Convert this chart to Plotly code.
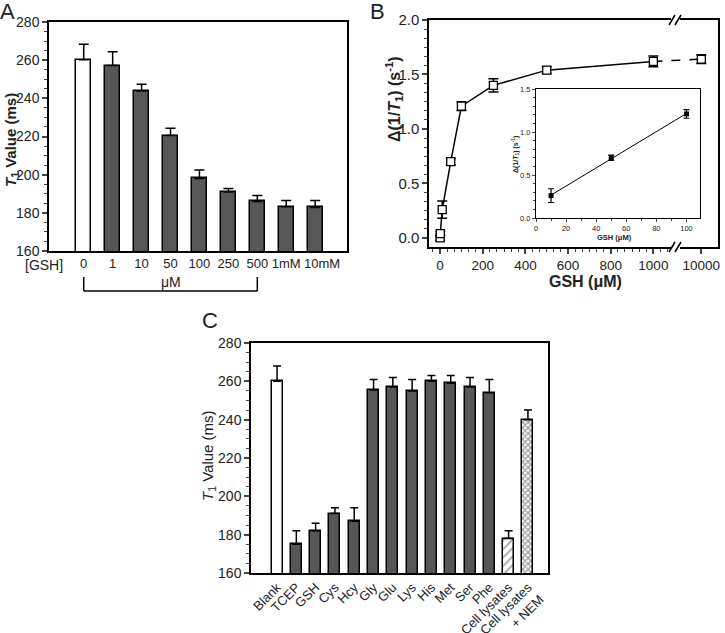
import plotly.graph_objects as go
import numpy as np

W, H = 725, 633
FONT = "Liberation Sans, Arial, sans-serif"
def px(x): return x / W
def py(y): return 1 - y / H

# ---------------- data ----------------
# Panel A
a_labels = ["0", "1", "10", "50", "100", "250", "500", "1mM", "10mM"]
a_values = [260.2, 257.2, 243.9, 220.5, 198.0, 190.9, 186.0, 183.2, 182.8]
a_err = [8.2, 7.2, 3.5, 3.8, 4.4, 1.9, 3.1, 3.3, 3.7]
a_label_pos = [0, 1, 2, 3, 4, 5, 6, 7, 8.24]   # label anchor positions (last one nudged as in the original)

# Panel B
b_conc = [0, 1, 10, 50, 100, 250, 500, 1000, 10000]
b_delta = [0.0, 0.04, 0.26, 0.70, 1.21, 1.40, 1.54, 1.62, 1.64]
b_err = [0.02, 0.02, 0.08, 0.03, 0.04, 0.06, 0.03, 0.05, 0.04]
b_ticks = [0, 200, 400, 600, 800, 1000, 10000]

# Inset of B
i_conc = [10, 50, 100]
i_delta = [0.26, 0.70, 1.21]
i_err = [0.08, 0.03, 0.05]

# Panel C
c_labels = ["Blank", "TCEP", "GSH", "Cys", "Hcy", "Gly", "Glu", "Lys", "His",
            "Met", "Ser", "Phe", "Cell lysates", "Cell lysates<br>+ NEM"]
c_values = [260, 175, 182, 191, 187, 255.5, 257, 255, 260, 259, 257, 254, 178, 240]
c_err = [8, 7, 4, 3, 7, 5.5, 5, 6, 3, 4, 5, 7, 4, 5]

# ---------------- broken x axis for B ----------------
BREAK = 1100
SEG_START = 9220
SEG_SCALE = 0.16
def bx(v):
    return v if v <= BREAK else BREAK + (v - SEG_START) * SEG_SCALE

GRAY = "#575757"
fig = go.Figure()

# Panel A bars
fig.add_trace(go.Bar(
    x=list(range(len(a_values))), y=a_values, width=0.52,
    marker=dict(color=["white"] + [GRAY] * (len(a_values) - 1),
                line=dict(color="black", width=1.5)),
    error_y=dict(type="data", array=a_err, arrayminus=[0] * len(a_err),
                 symmetric=False, color="black", thickness=1.5, width=5),
    xaxis="x", yaxis="y", showlegend=False))

# Panel B
bxs = [bx(v) for v in b_conc]
fig.add_trace(go.Scatter(x=bxs[:8], y=b_delta[:8], mode="lines",
                         line=dict(color="black", width=1.5),
                         xaxis="x2", yaxis="y2", showlegend=False))
fig.add_trace(go.Scatter(x=bxs[7:], y=b_delta[7:], mode="lines",
                         line=dict(color="black", width=1.5, dash="dash"),
                         xaxis="x2", yaxis="y2", showlegend=False))
fig.add_trace(go.Scatter(
    x=bxs, y=b_delta, mode="markers",
    marker=dict(symbol="square", size=8, color="white",
                line=dict(color="black", width=1.3)),
    error_y=dict(type="data", array=b_err, color="black", thickness=1.5, width=5),
    xaxis="x2", yaxis="y2", showlegend=False))

# Inset
coef = np.polyfit(i_conc, i_delta, 1)
fit_x = [i_conc[0], i_conc[-1]]
fig.add_trace(go.Scatter(x=fit_x, y=list(np.polyval(coef, fit_x)), mode="lines",
                         line=dict(color="black", width=1),
                         xaxis="x3", yaxis="y3", showlegend=False))
fig.add_trace(go.Scatter(
    x=i_conc, y=i_delta, mode="markers",
    marker=dict(symbol="square", size=5, color="black"),
    error_y=dict(type="data", array=i_err, color="black", thickness=1.2, width=3),
    xaxis="x3", yaxis="y3", showlegend=False))

# Panel C bars
n = len(c_values)
c_colors = ["white"] + [GRAY] * (n - 3) + ["white", "white"]
c_shapes = [""] * (n - 2) + ["/", "x"]
fig.add_trace(go.Bar(
    x=list(range(n)), y=c_values, width=0.57,
    marker=dict(color=c_colors, line=dict(color="black", width=1.5),
                pattern=dict(shape=c_shapes, fgcolor="black", fillmode="overlay",
                             size=[6] * (n - 2) + [6, 4],
                             solidity=[0.3] * (n - 1) + [0.6])),
    error_y=dict(type="data", array=c_err, arrayminus=[0] * n, symmetric=False,
                 color="black", thickness=1.5, width=4),
    xaxis="x4", yaxis="y4", showlegend=False))

tickfont = dict(family=FONT, size=14, color="#222")
box = dict(showline=True, mirror=True, linecolor="black", linewidth=1.5,
           showgrid=False, zeroline=False, automargin=False)

minor_b = [k * 200 / 6 for k in range(-1, 33) if k % 6 != 0]

fig.update_layout(
    width=W, height=H, autosize=False,
    margin=dict(l=0, r=0, t=0, b=0),
    paper_bgcolor="white", plot_bgcolor="white",
    bargap=0,
    font=dict(family=FONT, color="#222"),
    xaxis=dict(domain=[px(49), px(347)], range=[-1.2, 9.1], anchor="y",
               tickvals=a_label_pos, ticktext=a_labels, ticks="", tickangle=0,
               tickfont=dict(family=FONT, size=13, color="#222"), **box),
    yaxis=dict(domain=[py(251), py(22)], range=[160, 280], anchor="x",
               dtick=20, ticks="outside", ticklen=5, tickwidth=1.5,
               minor=dict(dtick=5, ticks="outside", ticklen=3, tickwidth=1),
               tickfont=tickfont, **box),
    xaxis2=dict(domain=[px(429), px(718)], range=[-52, 1303], anchor="y2",
                tickvals=[bx(v) for v in b_ticks], ticktext=[str(v) for v in b_ticks],
                ticks="outside", ticklen=5, tickwidth=1.5, tickangle=0,
                ticklabeloverflow="allow",
                minor=dict(tickvals=minor_b, ticks="outside", ticklen=3, tickwidth=1),
                tickfont=dict(family=FONT, size=13.5, color="#222"), **box),
    yaxis2=dict(domain=[py(247), py(20)], range=[-0.083, 2.0], anchor="x2",
                dtick=0.5, tick0=0, tickformat=".1f",
                ticks="outside", ticklen=5, tickwidth=1.5,
                minor=dict(dtick=0.5 / 6, ticks="outside", ticklen=3, tickwidth=1),
                tickfont=dict(family=FONT, size=15, color="#222"), **box),
    xaxis3=dict(domain=[px(536), px(700)], range=[0, 109], anchor="y3",
                dtick=20, ticks="outside", ticklen=3, tickwidth=1, tickangle=0,
                minor=dict(dtick=10, ticks="outside", ticklen=2, tickwidth=1),
                tickfont=dict(family=FONT, size=7.5, color="#222"),
                showline=True, mirror=True, linecolor="black", linewidth=1,
                showgrid=False, zeroline=False, automargin=False),
    yaxis3=dict(domain=[py(218), py(89)], range=[0, 1.5], anchor="x3",
                dtick=0.5, tickformat=".1f", ticks="outside", ticklen=3, tickwidth=1,
                minor=dict(dtick=0.1, ticks="outside", ticklen=2, tickwidth=1),
                tickfont=dict(family=FONT, size=7.5, color="#222"),
                showline=True, mirror=True, linecolor="black", linewidth=1,
                showgrid=False, zeroline=False, automargin=False),
    xaxis4=dict(domain=[px(251), px(548)], range=[-1.35, 14.04], anchor="y4",
                tickvals=list(range(n)), ticktext=c_labels, ticks="", tickangle=-45,
                ticklabeloverflow="allow",
                tickfont=dict(family=FONT, size=13, color="#222"), **box),
    yaxis4=dict(domain=[py(573), py(343)], range=[160, 280], anchor="x4",
                dtick=20, ticks="outside", ticklen=5, tickwidth=1.5,
                minor=dict(dtick=5, ticks="outside", ticklen=3, tickwidth=1),
                tickfont=tickfont, **box),
)

def ann(text, x, y, size, angle=0, **kw):
    fig.add_annotation(text=text, x=px(x), y=py(y), xref="paper", yref="paper",
                       showarrow=False, textangle=angle, xanchor="center",
                       yanchor="middle", font=dict(family=FONT, size=size, color="#222"), **kw)

# panel letters
ann("A", 8, 11, 22)
ann("B", 378, 11, 22)
ann("C", 210, 320, 22)

# axis titles
ann("<b><i>T</i><sub>1</sub> Value (ms)</b>", 11, 140, 15, angle=-90)
ann("<b>Δ(1/<i>T</i><sub>1</sub>) (s<sup>-1</sup>)</b>", 394, 100, 16, angle=-90)
ann("<b>GSH (μM)</b>", 585, 281, 16)
ann("<b>Δ(1/<i>T</i><sub>1</sub>) (s<sup>-1</sup>)</b>", 515, 155, 7, angle=-90)
ann("<b>GSH (μM)</b>", 614, 237, 7.5)
ann("<i>T</i><sub>1</sub> Value (ms)", 208, 456, 15, angle=-90)

# [GSH] and μM bracket in panel A
ann("[GSH]", 44, 265, 14)
ann("μM", 171, 282, 14)
for x0, y0, x1, y1 in [(0, 277, 0, 291), (0, 291, 6, 291), (6, 291, 6, 277)]:
    fig.add_shape(type="line", xref="x", yref="paper", x0=x0, x1=x1,
                  y0=py(y0), y1=py(y1), line=dict(color="black", width=1.5))

# axis break marks on panel B
for yb in (20, 247):
    fig.add_shape(type="rect", xref="paper", yref="paper", layer="above",
                  x0=px(671), x1=px(680), y0=py(yb + 2.5), y1=py(yb - 2.5),
                  fillcolor="white", line=dict(width=0))
    for xo in (669, 675):
        fig.add_shape(type="line", xref="paper", yref="paper", layer="above",
                      x0=px(xo), x1=px(xo + 6), y0=py(yb + 5), y1=py(yb - 5),
                      line=dict(color="black", width=1.5))

fig.write_html("out.html", config={"displayModeBar": False},
               post_script="document.body.style.margin='0';")
